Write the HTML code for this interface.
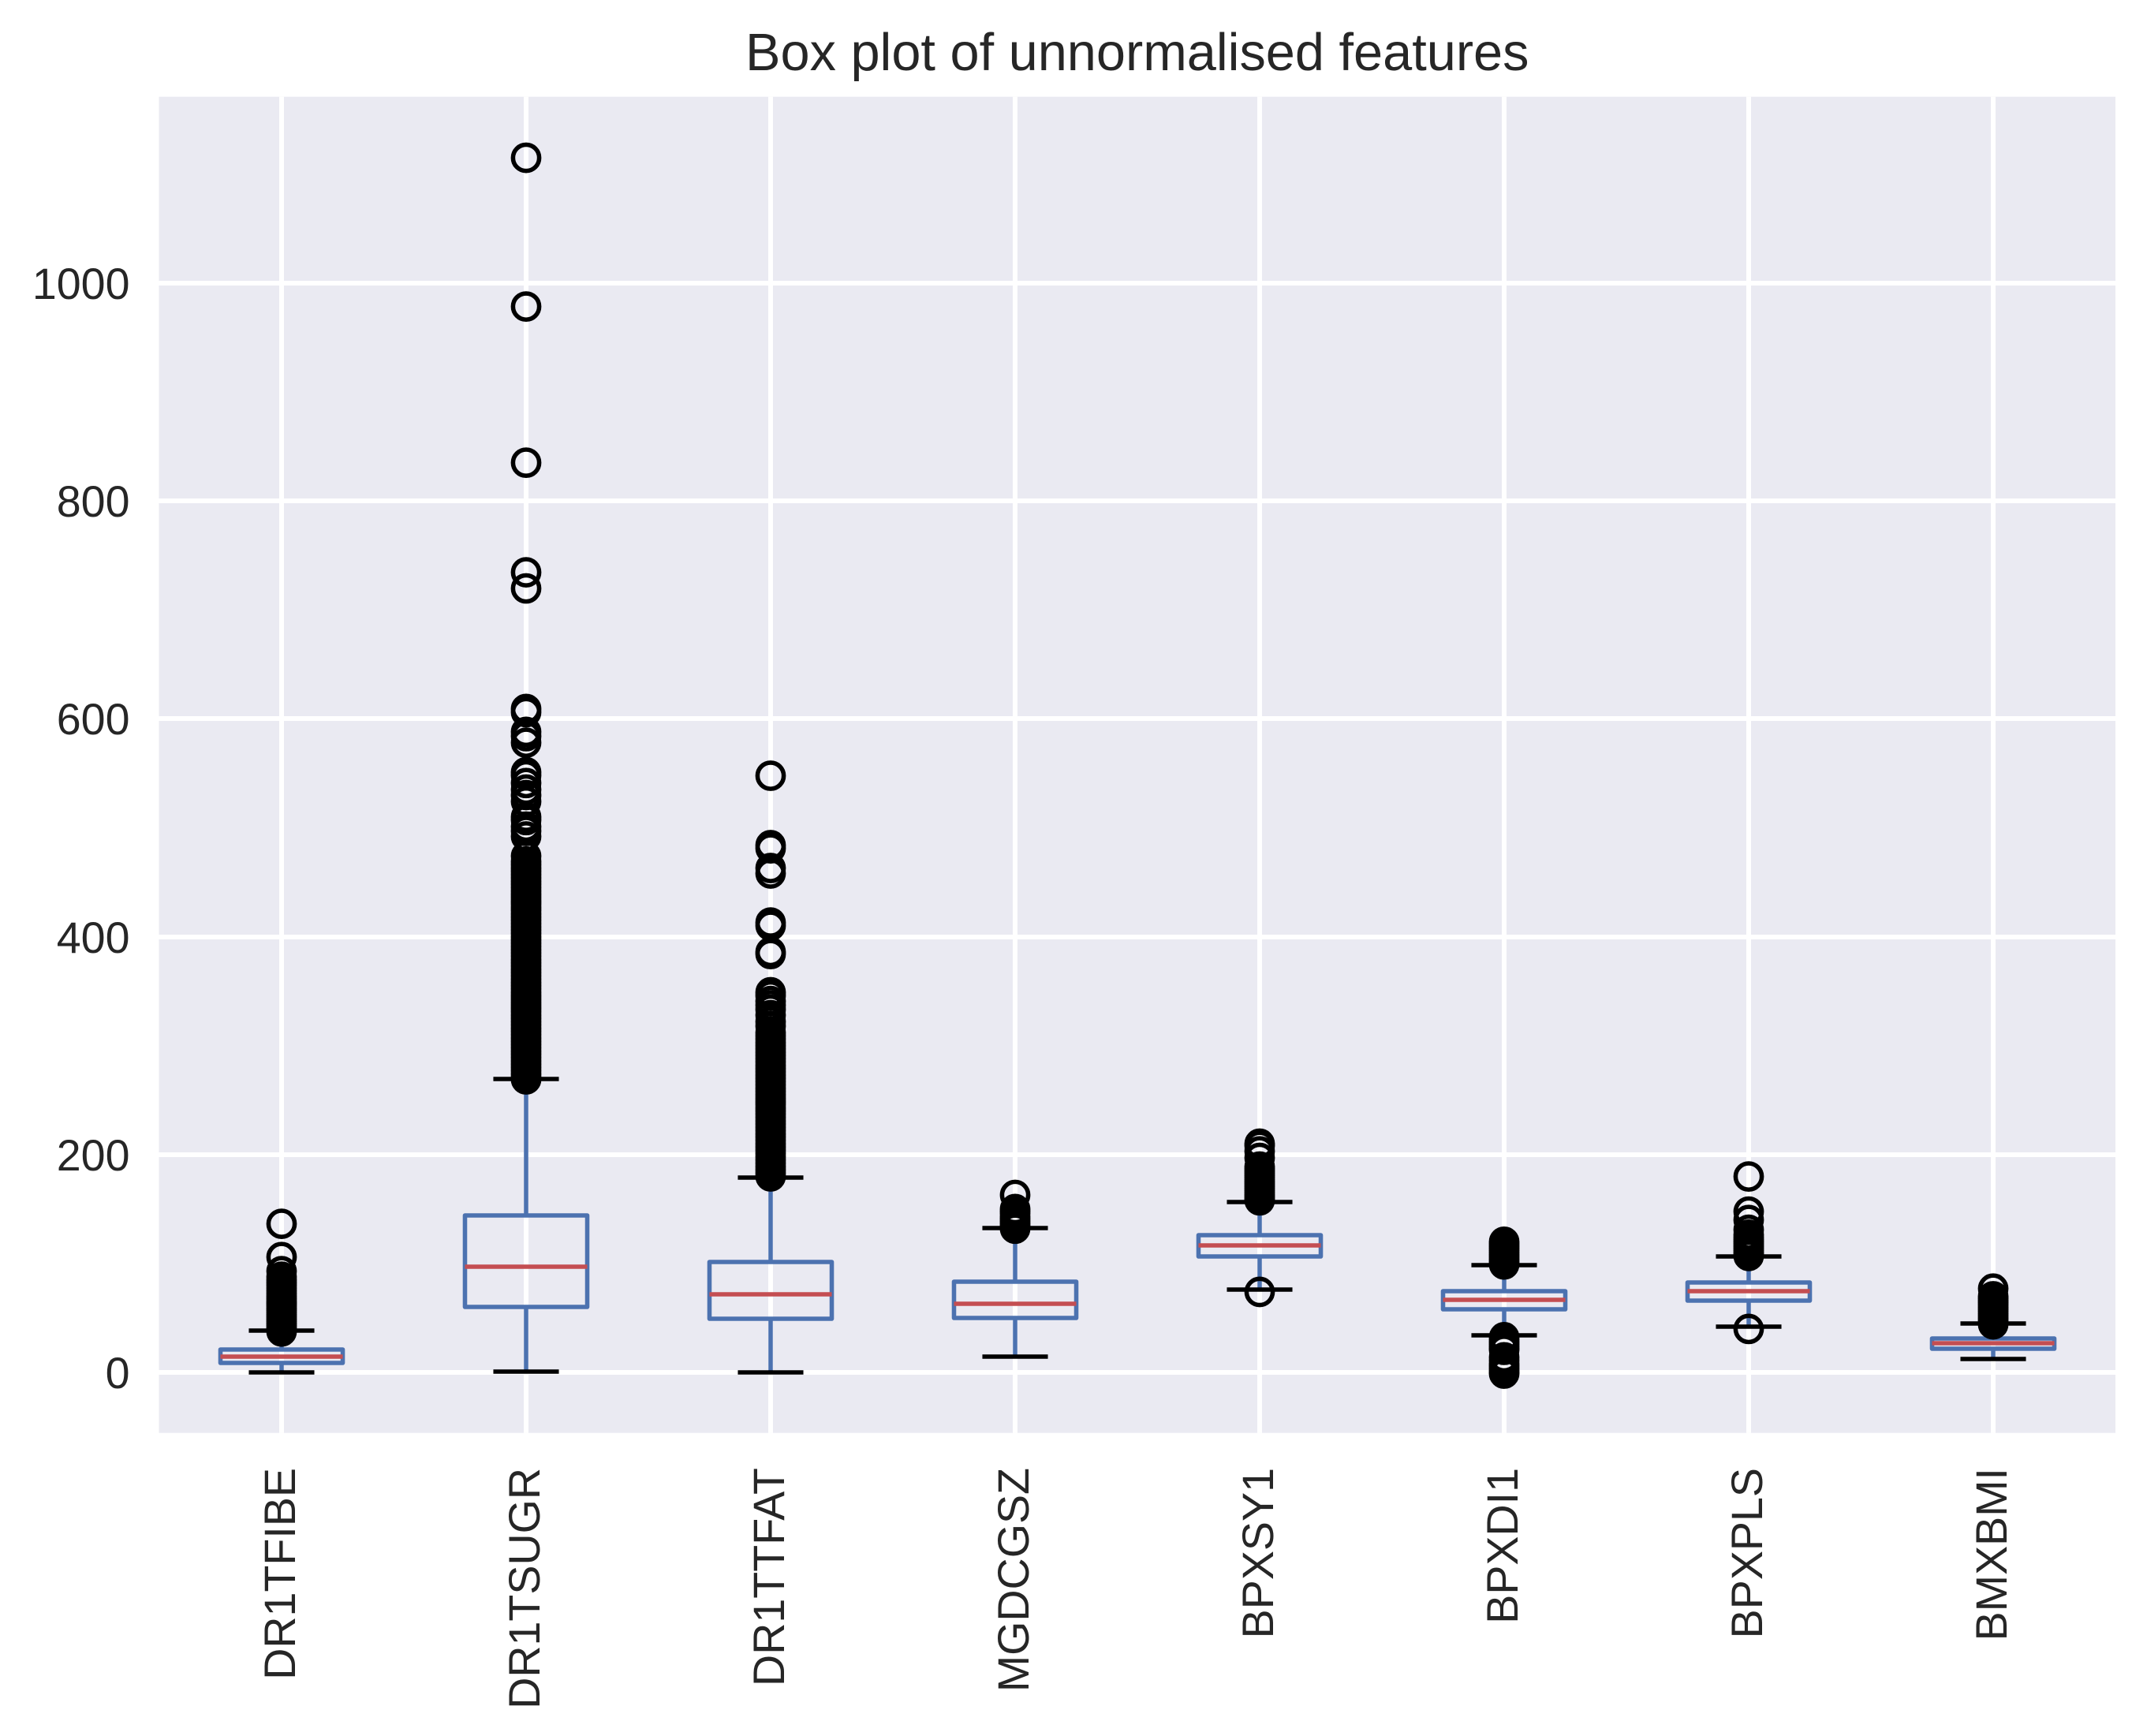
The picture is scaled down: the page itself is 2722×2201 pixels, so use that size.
<!DOCTYPE html>
<html lang="en">
<head>
<meta charset="utf-8">
<title>Box plot of unnormalised features</title>
<style>
html,body{margin:0;padding:0;background:#fff;}
svg{display:block;}
text{font-family:"Liberation Sans",Arial,sans-serif;fill:#262626;}
</style>
</head>
<body>
<svg id="chart" xmlns="http://www.w3.org/2000/svg" width="2722" height="2201" viewBox="0 0 2722 2201">
  <rect x="0" y="0" width="2722" height="2201" fill="#ffffff"/>
  <rect x="201.5" y="122.7" width="2480.5" height="1694" fill="#eaeaf2"/>
  <text x="1441.75" y="89" font-size="66.7" text-anchor="middle">Box plot of unnormalised features</text>
  <g id="grid"></g>
  <g id="boxes"></g>
  <g id="yticks"></g>
  <g id="xticks"></g>
</svg>
<script>
const categories = ["DR1TFIBE","DR1TSUGR","DR1TTFAT","MGDCGSZ","BPXSY1","BPXDI1","BPXPLS","BMXBMI"];
const yTickLabels = [0,200,400,600,800,1000];
const q1Values = [8.5,60.4,49.3,50,106.4,57.7,66,21.5];
const medianValues = [14.4,97,71.8,63,116.6,66.4,74.6,26.8];
const q3Values = [21,144.4,101.4,83.3,125.8,74.6,82.5,31.6];
const whiskerLowValues = [0,0.8,0,14.5,76,34,42,12.3];
const whiskerHighValues = [38.2,269.4,178.7,132.5,156.4,98.5,106.4,44.9];
const fliersDR1TFIBE = [136.5,106,93,88,85,82.5,80,77.5,75,72.5,70,67.5,65,63,61,59,57,55,53,51,49,47,45,43,41,39,37.6];
const fliersDR1TSUGR = [1114.8,978.3,835,734.4,719.6,609,606,588,584,578,551,548,541,535,530,524,510,507,501,497,492,
  474,469,466,463,460,457,454,451,448,445,442,439,436,433,430,427,424,421,418,415,412,409,406,403,400,397,394,391,388,385,382,379,376,373,370,367,364,361,358,355,352,349,346,343,340,337,334,331,328,325,322,319,316,313,310,307,304,301,298,295,292,289,286,283,280,277,274,271,269];
const fliersDR1TTFAT = [547.7,484,481,463,458,413,410,386,384,349,346,341,337,333,328,322,318,312,309,306,303,300,297,294,291,288,285,282,279,276,273,270,267,264,261,258,255,252,249,246,243,240,237,234,231,228,225,222,219,216,213,210,207,204,201,198,195,192,189,186,183,180];
const fliersMGDCGSZ = [163,150,148,146,143,141,139,137,135,133,132];
const fliersBPXSY1 = [210,208,203,197,189,187,185,183,181,179,177,175,173,171,169,167,165,163,161,159,158,74];
const fliersBPXDI1 = [120,118,116,114,112,110,108,106,104,102,100,99.2,32.4,30,28,26,24,22,20.8,14,11,8,6,4,2,0,-1];
const fliersBPXPLS = [179.9,147.7,140,131,126.5,124,122,120,118,116,114,112,110,108,107,40];
const fliersBMXBMI = [77,70,68,66,64,62,60,58,56,54,52,50,48,46,44.2];
const allFliers = [fliersDR1TFIBE,fliersDR1TSUGR,fliersDR1TTFAT,fliersMGDCGSZ,fliersBPXSY1,fliersBPXDI1,fliersBPXPLS,fliersBMXBMI];

const SVGNS = "http://www.w3.org/2000/svg";
const plotLeft = 201.5, plotRight = 2682, plotTop = 122.7, plotBottom = 1816.7;
const yMin = -55.4, yMax = 1170.8;
const xMin = 0.5, xMax = 8.5;
const lineW = 5.56;
const gridW = 6;
function xScale(pos){ return plotLeft + (pos - xMin) / (xMax - xMin) * (plotRight - plotLeft); }
function yScale(v){ return plotBottom - (v - yMin) / (yMax - yMin) * (plotBottom - plotTop); }
function snapX(pos){ return Math.round(xScale(pos)); }
function snapY(v){ return Math.round(yScale(v)); }
function make(tag, parent, attrs){
  const el = document.createElementNS(SVGNS, tag);
  for (const k in attrs) el.setAttribute(k, attrs[k]);
  parent.appendChild(el);
  return el;
}
const gridG = document.getElementById("grid");
const boxesG = document.getElementById("boxes");
const yG = document.getElementById("yticks");
const xG = document.getElementById("xticks");

yTickLabels.forEach(function(t){
  const py = snapY(t);
  const gl = make("line", gridG, {x1:plotLeft,x2:plotRight,y1:py,y2:py,stroke:"#ffffff","stroke-width":gridW});
  
  
  const lab = make("text", yG, {x:164.5,y:py+20,"font-size":55.6,"text-anchor":"end"});
  lab.textContent = String(t);
  
  
});
categories.forEach(function(name,i){
  const px = snapX(i+1);
  const gl = make("line", gridG, {x1:px,x2:px,y1:plotTop,y2:plotBottom,stroke:"#ffffff","stroke-width":gridW});
  
  
  const bx = px + 17;
  const lab = make("text", xG, {x:bx,y:1861,"font-size":55.6,"text-anchor":"end",transform:"rotate(-90 "+bx+" 1861)"});
  lab.textContent = name;
  
  
});
categories.forEach(function(name,i){
  const px = snapX(i+1);
  const halfBox = 0.25 * (xScale(2)-xScale(1));
  const halfCap = 0.125 * (xScale(2)-xScale(1));
  const g = make("g", boxesG, {});
  
  
  const blue = "#4c72b0", red = "#c44e52", black = "#000000";
  const box = make("rect", g, {x:px-halfBox,y:snapY(q3Values[i]),width:2*halfBox,height:snapY(q1Values[i])-snapY(q3Values[i]),fill:"none",stroke:blue,"stroke-width":lineW,"stroke-linejoin":"round"});
  
  
  const wLow = make("line", g, {x1:px,x2:px,y1:snapY(q1Values[i]),y2:snapY(whiskerLowValues[i]),stroke:blue,"stroke-width":lineW});
  
  
  const wHigh = make("line", g, {x1:px,x2:px,y1:snapY(q3Values[i]),y2:snapY(whiskerHighValues[i]),stroke:blue,"stroke-width":lineW});
  
  
  const cLow = make("line", g, {x1:px-halfCap,x2:px+halfCap,y1:snapY(whiskerLowValues[i]),y2:snapY(whiskerLowValues[i]),stroke:black,"stroke-width":lineW,"stroke-linecap":"square"});
  
  
  const cHigh = make("line", g, {x1:px-halfCap,x2:px+halfCap,y1:snapY(whiskerHighValues[i]),y2:snapY(whiskerHighValues[i]),stroke:black,"stroke-width":lineW,"stroke-linecap":"square"});
  
  
  const med = make("line", g, {x1:px-halfBox,x2:px+halfBox,y1:snapY(medianValues[i]),y2:snapY(medianValues[i]),stroke:red,"stroke-width":lineW});
  
  
  allFliers[i].forEach(function(v){
    const c = make("circle", g, {cx:px,cy:yScale(v),r:16.6,fill:"none",stroke:black,"stroke-width":lineW});
    
    
  });
});
</script>
</body>
</html>
